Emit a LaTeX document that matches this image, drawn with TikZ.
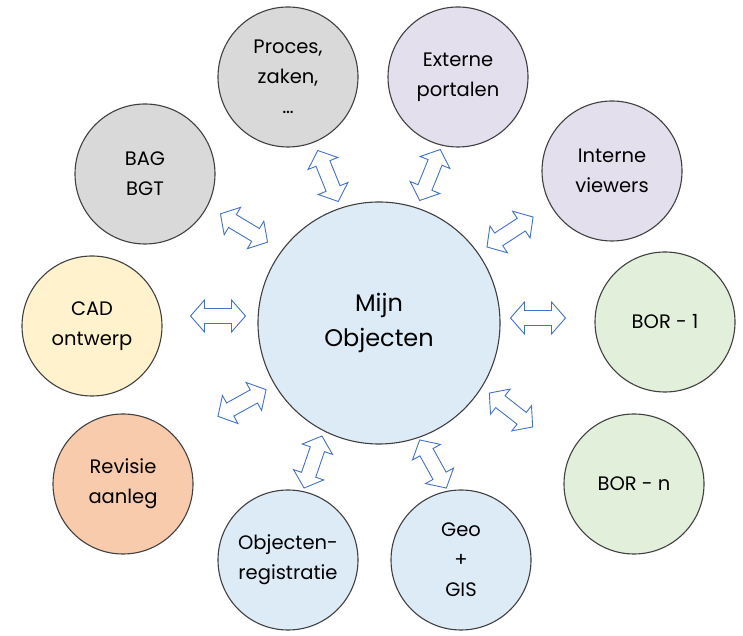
\documentclass[tikz,border=0pt]{standalone}
\usepackage{fontspec}
\setmainfont{Poppins}
\definecolor{circline}{HTML}{404040}
\definecolor{arrline}{HTML}{4472C4}
\definecolor{cgray}{HTML}{D9D9D9}
\definecolor{cpurple}{HTML}{E4DFEC}
\definecolor{cgreen}{HTML}{E2EFDA}
\definecolor{cyellow}{HTML}{FFF2CC}
\definecolor{corange}{HTML}{F8CBAD}
\definecolor{cblue}{HTML}{DDEBF7}
\begin{document}
\begin{tikzpicture}[x=1pt,y=1pt]
\useasboundingbox (0,0) rectangle (743,636);
\tikzset{
  bubble/.style={circle, draw=circline, line width=1.1pt, minimum size=140pt, inner sep=0pt,
    align=center, font=\fontsize{19.5}{30}\selectfont, text=black},
  hub/.style={bubble, minimum size=242pt, font=\fontsize{24}{35}\selectfont},
  arrowline/.style={draw=arrline, fill=white, line width=0.9pt, line join=miter},
  pics/dblarrow/.style={code={
    \draw[arrowline] (-27.5,0) -- (-13.5,16) -- (-13.5,7.5) -- (13.5,7.5) -- (13.5,16)
      -- (27.5,0) -- (13.5,-16) -- (13.5,-7.5) -- (-13.5,-7.5) -- (-13.5,-16) -- cycle;
  }}
}
% hub
\node[hub, fill=cblue] (hub) at (379,313) {Mijn\\Objecten};
% outer bubbles
\node[bubble, fill=cgray]   (proces)  at (288,559) {Proces,\\zaken,\\…};
\node[bubble, fill=cpurple] (externe) at (458,559) {Externe\\portalen};
\node[bubble, fill=cgray]   (bag)     at (145,462) {BAG\\BGT};
\node[bubble, fill=cpurple] (interne) at (612,465) {Interne\\viewers};
\node[bubble, fill=cyellow] (cad)     at (92,310)  {CAD\\ontwerp};
\node[bubble, fill=cgreen]  (bor1)    at (665,314) {BOR - 1};
\node[bubble, fill=corange] (revisie) at (123,152) {Revisie\\aanleg};
\node[bubble, fill=cgreen]  (born)    at (634,152) {BOR - n};
\node[bubble, fill=cblue]   (objreg)  at (288,76)  {Objecten-\\registratie};
\node[bubble, fill=cblue]   (geo)     at (461,76)  {Geo\\+\\GIS};
% double arrows
\pic[rotate=0]   (a-cad)     at (218,320) {dblarrow};
\pic[rotate=0]   (a-bor1)    at (538,318) {dblarrow};
\pic[rotate=112] (a-proces)  at (328,460) {dblarrow};
\pic[rotate=68]  (a-externe) at (430,461) {dblarrow};
\pic[rotate=-31] (a-bag)     at (244,408) {dblarrow};
\pic[rotate=33]  (a-interne) at (510,404) {dblarrow};
\pic[rotate=29]  (a-revisie) at (242,233) {dblarrow};
\pic[rotate=-38] (a-born)    at (511,226) {dblarrow};
\pic[rotate=71]  (a-objreg)  at (313,174) {dblarrow};
\pic[rotate=-61] (a-geo)     at (433,172) {dblarrow};
\end{tikzpicture}
\end{document}
